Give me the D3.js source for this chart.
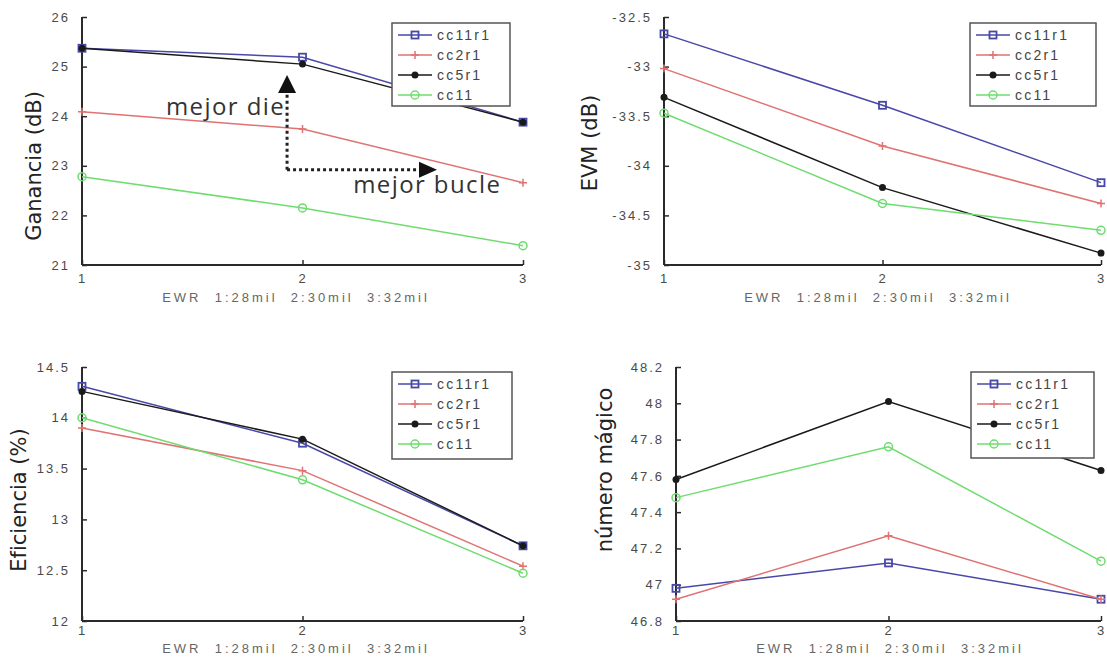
<!DOCTYPE html>
<html lang="es">
  <head>
    <meta charset="UTF-8" />
    <title>EWR comparativa</title>
    <style>
      body { margin: 0; background: #fff; }
      svg { display: block; }
      .tick-lbl { font-family: "Liberation Sans", Arial, sans-serif; font-size: 13px; letter-spacing: 2px; fill: #4a4a4a; }
      .axis-title { font-family: "DejaVu Sans", sans-serif; font-size: 21px; fill: #222; }
      .x-title { font-family: "Liberation Sans", Arial, sans-serif; font-size: 13px; letter-spacing: 3px; fill: #666; white-space: pre; }
      .legend-lbl { font-family: "Liberation Sans", Arial, sans-serif; font-size: 14px; letter-spacing: 2.2px; fill: #444; }
      .note { font-family: "Open Sans", sans-serif; font-size: 24px; letter-spacing: 1.4px; fill: #333; }
    </style>
  </head>
  <body>
    <svg width="1107" height="657"></svg>

    <script src="https://d3js.org/d3.v7.min.js"></script>
    <script>
      // data
      const xValues = [1, 2, 3];
      const seriesNames = ["cc11r1", "cc2r1", "cc5r1", "cc11"];
      const xTitle = "EWR  1:28mil  2:30mil  3:32mil";

      // rows follow seriesNames
      const ganancia = [
        [25.37, 25.19, 23.88],
        [24.09, 23.74, 22.66],
        [25.37, 25.05, 23.88],
        [22.78, 22.15, 21.39],
      ];
      const gananciaTicks = [21, 22, 23, 24, 25, 26];

      const evm = [
        [-32.67, -33.39, -34.17],
        [-33.02, -33.8, -34.38],
        [-33.31, -34.22, -34.88],
        [-33.47, -34.38, -34.65],
      ];
      const evmTicks = [-35, -34.5, -34, -33.5, -33, -32.5];

      const eficiencia = [
        [14.31, 13.75, 12.74],
        [13.9, 13.48, 12.54],
        [14.26, 13.79, 12.74],
        [14.0, 13.39, 12.47],
      ];
      const eficienciaTicks = [12, 12.5, 13, 13.5, 14, 14.5];

      const magico = [
        [46.98, 47.12, 46.92],
        [46.92, 47.27, 46.92],
        [47.58, 48.01, 47.63],
        [47.48, 47.76, 47.13],
      ];
      const magicoTicks = [46.8, 47, 47.2, 47.4, 47.6, 47.8, 48, 48.2];

      const colors = ["#4848a8", "#e07272", "#1a1a1a", "#6fdc6f"];
      const markers = ["square", "plus", "dot", "circle"];

      const panels = [
        { values: ganancia, ticks: gananciaTicks, title: "Ganancia (dB)",
          box: { l: 82, r: 523, t: 17, b: 265 }, titleX: 34, titleY: 166,
          xPad: 9, xTitleDy: 37,
          legend: { x: 392, y: 23, w: 118, h: 83 } },
        { values: evm, ticks: evmTicks, title: "EVM (dB)",
          box: { l: 664, r: 1101, t: 17, b: 265 }, titleX: 590, titleY: 143,
          xPad: 9, xTitleDy: 37,
          legend: { x: 970, y: 23, w: 126, h: 83 } },
        { values: eficiencia, ticks: eficienciaTicks, title: "Eficiencia (%)",
          box: { l: 82, r: 523, t: 367, b: 621 }, titleX: 19, titleY: 500,
          xPad: 5, xTitleDy: 32,
          legend: { x: 392, y: 372, w: 120, h: 87 } },
        { values: magico, ticks: magicoTicks, title: "número mágico",
          box: { l: 676, r: 1101, t: 367, b: 621 }, titleX: 605, titleY: 470,
          xPad: 5, xTitleDy: 32,
          legend: { x: 971, y: 372, w: 123, h: 86 } },
      ];

      const svg = d3.select("svg");

      function drawMarker(g, type, color) {
        if (type === "square") {
          g.append("rect").attr("x", -3.5).attr("y", -3.5).attr("width", 7).attr("height", 7)
            .attr("fill", "none").attr("stroke", color).attr("stroke-width", 1.8);
        } else if (type === "plus") {
          g.append("path").attr("d", "M-4,0H4M0,-4V4")
            .attr("stroke", color).attr("stroke-width", 1.5);
        } else if (type === "dot") {
          g.append("circle").attr("r", 3.5).attr("fill", color);
        } else {
          g.append("circle").attr("r", 4).attr("fill", "none")
            .attr("stroke", color).attr("stroke-width", 1.5);
        }
      }

      function drawPanel(p) {
        const g = svg.append("g");
        const ticks = p.ticks;
        const x = d3.scaleLinear().domain([1, 3]).range([p.box.l, p.box.r]);
        const y = d3.scaleLinear()
          .domain([ticks[0], ticks[ticks.length - 1]])
          .range([p.box.b, p.box.t]);

        // axes (only left and bottom, ticks inward)
        const yAxis = g.append("g")
          .attr("transform", `translate(${p.box.l},0)`)
          .call(d3.axisLeft(y).tickValues(ticks).tickSize(-5).tickPadding(12)
            .tickFormat((d) => String(d)));
        const xAxis = g.append("g")
          .attr("transform", `translate(0,${p.box.b})`)
          .call(d3.axisBottom(x).tickValues(xValues).tickSize(-5).tickPadding(p.xPad)
            .tickFormat(d3.format("d")));

        [yAxis, xAxis].forEach((a) => {
          a.select(".domain").attr("stroke", "#2a2a2a").attr("stroke-width", 2);
          a.selectAll(".tick line").attr("stroke", "#2a2a2a").attr("stroke-width", 1.5);
          a.selectAll(".tick text").attr("class", "tick-lbl").attr("font-size", null)
            .attr("font-family", null);
          a.attr("font-family", null).attr("font-size", null);
        });
        yAxis.select(".domain").attr("d", `M0,${p.box.t}V${p.box.b}`);
        xAxis.select(".domain").attr("d", `M${p.box.l},0H${p.box.r}`);

        // series
        const line = d3.line().x((d, i) => x(xValues[i])).y((d) => y(d));
        p.values.forEach((vals, s) => {
          g.append("path").datum(vals).attr("d", line)
            .attr("fill", "none").attr("stroke", colors[s]).attr("stroke-width", 1.5);
          vals.forEach((v, i) => {
            const m = g.append("g").attr("transform", `translate(${x(xValues[i])},${y(v)})`);
            drawMarker(m, markers[s], colors[s]);
          });
        });

        // titles
        g.append("text").attr("class", "axis-title")
          .attr("transform", `translate(${p.titleX},${p.titleY}) rotate(-90)`)
          .attr("text-anchor", "middle").attr("dominant-baseline", "central")
          .text(p.title);
        g.append("text").attr("class", "x-title")
          .attr("x", p.box.l + 214)
          .attr("y", p.box.b + p.xTitleDy)
          .attr("text-anchor", "middle")
          .text(xTitle);

        // legend
        const L = p.legend;
        const lg = g.append("g").attr("transform", `translate(${L.x},${L.y})`);
        lg.append("rect").attr("width", L.w).attr("height", L.h)
          .attr("fill", "#fff").attr("stroke", "#555").attr("stroke-width", 1.5);
        seriesNames.forEach((name, s) => {
          const ry = 12 + s * 20;
          lg.append("line").attr("x1", 6).attr("x2", 40).attr("y1", ry).attr("y2", ry)
            .attr("stroke", colors[s]).attr("stroke-width", 1.5);
          drawMarker(lg.append("g").attr("transform", `translate(23,${ry})`), markers[s], colors[s]);
          lg.append("text").attr("class", "legend-lbl").attr("x", 45).attr("y", ry)
            .attr("dominant-baseline", "central").text(name);
        });

        return { g, x, y };
      }

      const drawn = panels.map(drawPanel);

      // annotations on the first panel
      const a = drawn[0];
      const ax = a.x, ay = a.y;
      const vx = ax(1.93), hy = ay(22.92), topY = ay(24.83), tipX = ax(2.61);
      const ann = a.g.append("g");
      ann.append("path")
        .attr("d", `M${vx},${hy}V${topY + 16}M${vx},${hy}H${tipX - 16}`)
        .attr("fill", "none").attr("stroke", "#222").attr("stroke-width", 3)
        .attr("stroke-dasharray", "3,3");
      ann.append("path")
        .attr("d", `M${vx},${topY}L${vx - 9},${topY + 18}L${vx + 9},${topY + 18}Z`)
        .attr("fill", "#111");
      ann.append("path")
        .attr("d", `M${tipX},${hy}L${tipX - 18},${hy - 8}L${tipX - 18},${hy + 8}Z`)
        .attr("fill", "#111");
      ann.append("text").attr("class", "note").attr("x", vx - 2).attr("y", ay(24.02))
        .attr("text-anchor", "end").text("mejor die");
      ann.append("text").attr("class", "note").attr("x", ax(2.23)).attr("y", ay(22.45))
        .text("mejor bucle");
    </script>
  </body>
</html>
